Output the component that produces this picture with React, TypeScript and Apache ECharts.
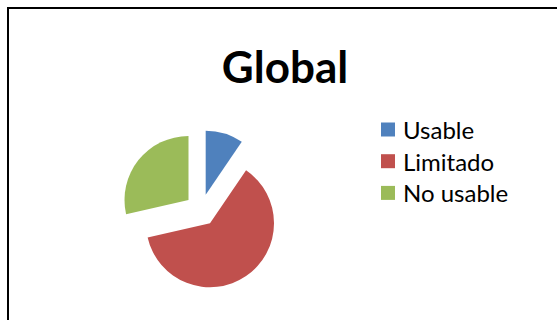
import React, { useEffect, useRef } from "react";
import * as echarts from "echarts";

const categories = ["Usable", "Limitado", "No usable"];
const values = [4, 26, 12];
const colors = ["#4F81BD", "#C0504D", "#9BBB59"];
const titleText = "Global";

export default function App() {
  const ref = useRef<HTMLDivElement>(null);
  useEffect(() => {
    if (!ref.current) return;
    const chart = echarts.init(ref.current, undefined, { renderer: "svg" });
    chart.setOption({
      animation: false,
      backgroundColor: "#ffffff",
      title: {
        text: titleText,
        left: 285,
        top: 44,
        padding: 0,
        textAlign: "center",
        textStyle: { fontFamily: "Lato", fontWeight: "bold", fontSize: 44, color: "#000" },
      },
      legend: {
        orient: "vertical",
        left: 381,
        top: 117.5,
        padding: 0,
        icon: "rect",
        itemWidth: 14,
        itemHeight: 14,
        itemGap: 7.7,
        selectedMode: false,
        data: categories,
        textStyle: { fontFamily: "Lato", fontSize: 24, lineHeight: 24, color: "#000", padding: [0, 0, 0, 3] },
      },
      graphic: [
        {
          type: "rect",
          shape: { x: 8, y: 8, width: 555, height: 340 },
          style: { fill: "none", stroke: "#000", lineWidth: 2 },
          silent: true,
        },
      ],
      series: [
        {
          type: "pie",
          center: [201, 210],
          radius: 64,
          startAngle: 90,
          clockwise: true,
          selectedMode: "multiple",
          selectedOffset: 16,
          label: { show: false },
          labelLine: { show: false },
          emphasis: { disabled: true },
          itemStyle: { borderWidth: 0 },
          data: categories.map((name, i) => ({
            name,
            value: values[i],
            selected: true,
            itemStyle: { color: colors[i] },
          })),
        },
      ],
    });
    return () => chart.dispose();
  }, []);
  return (
    <div
      ref={ref}
      style={{ position: "fixed", left: 0, top: 0, width: 557, height: 320 }}
    />
  );
}
